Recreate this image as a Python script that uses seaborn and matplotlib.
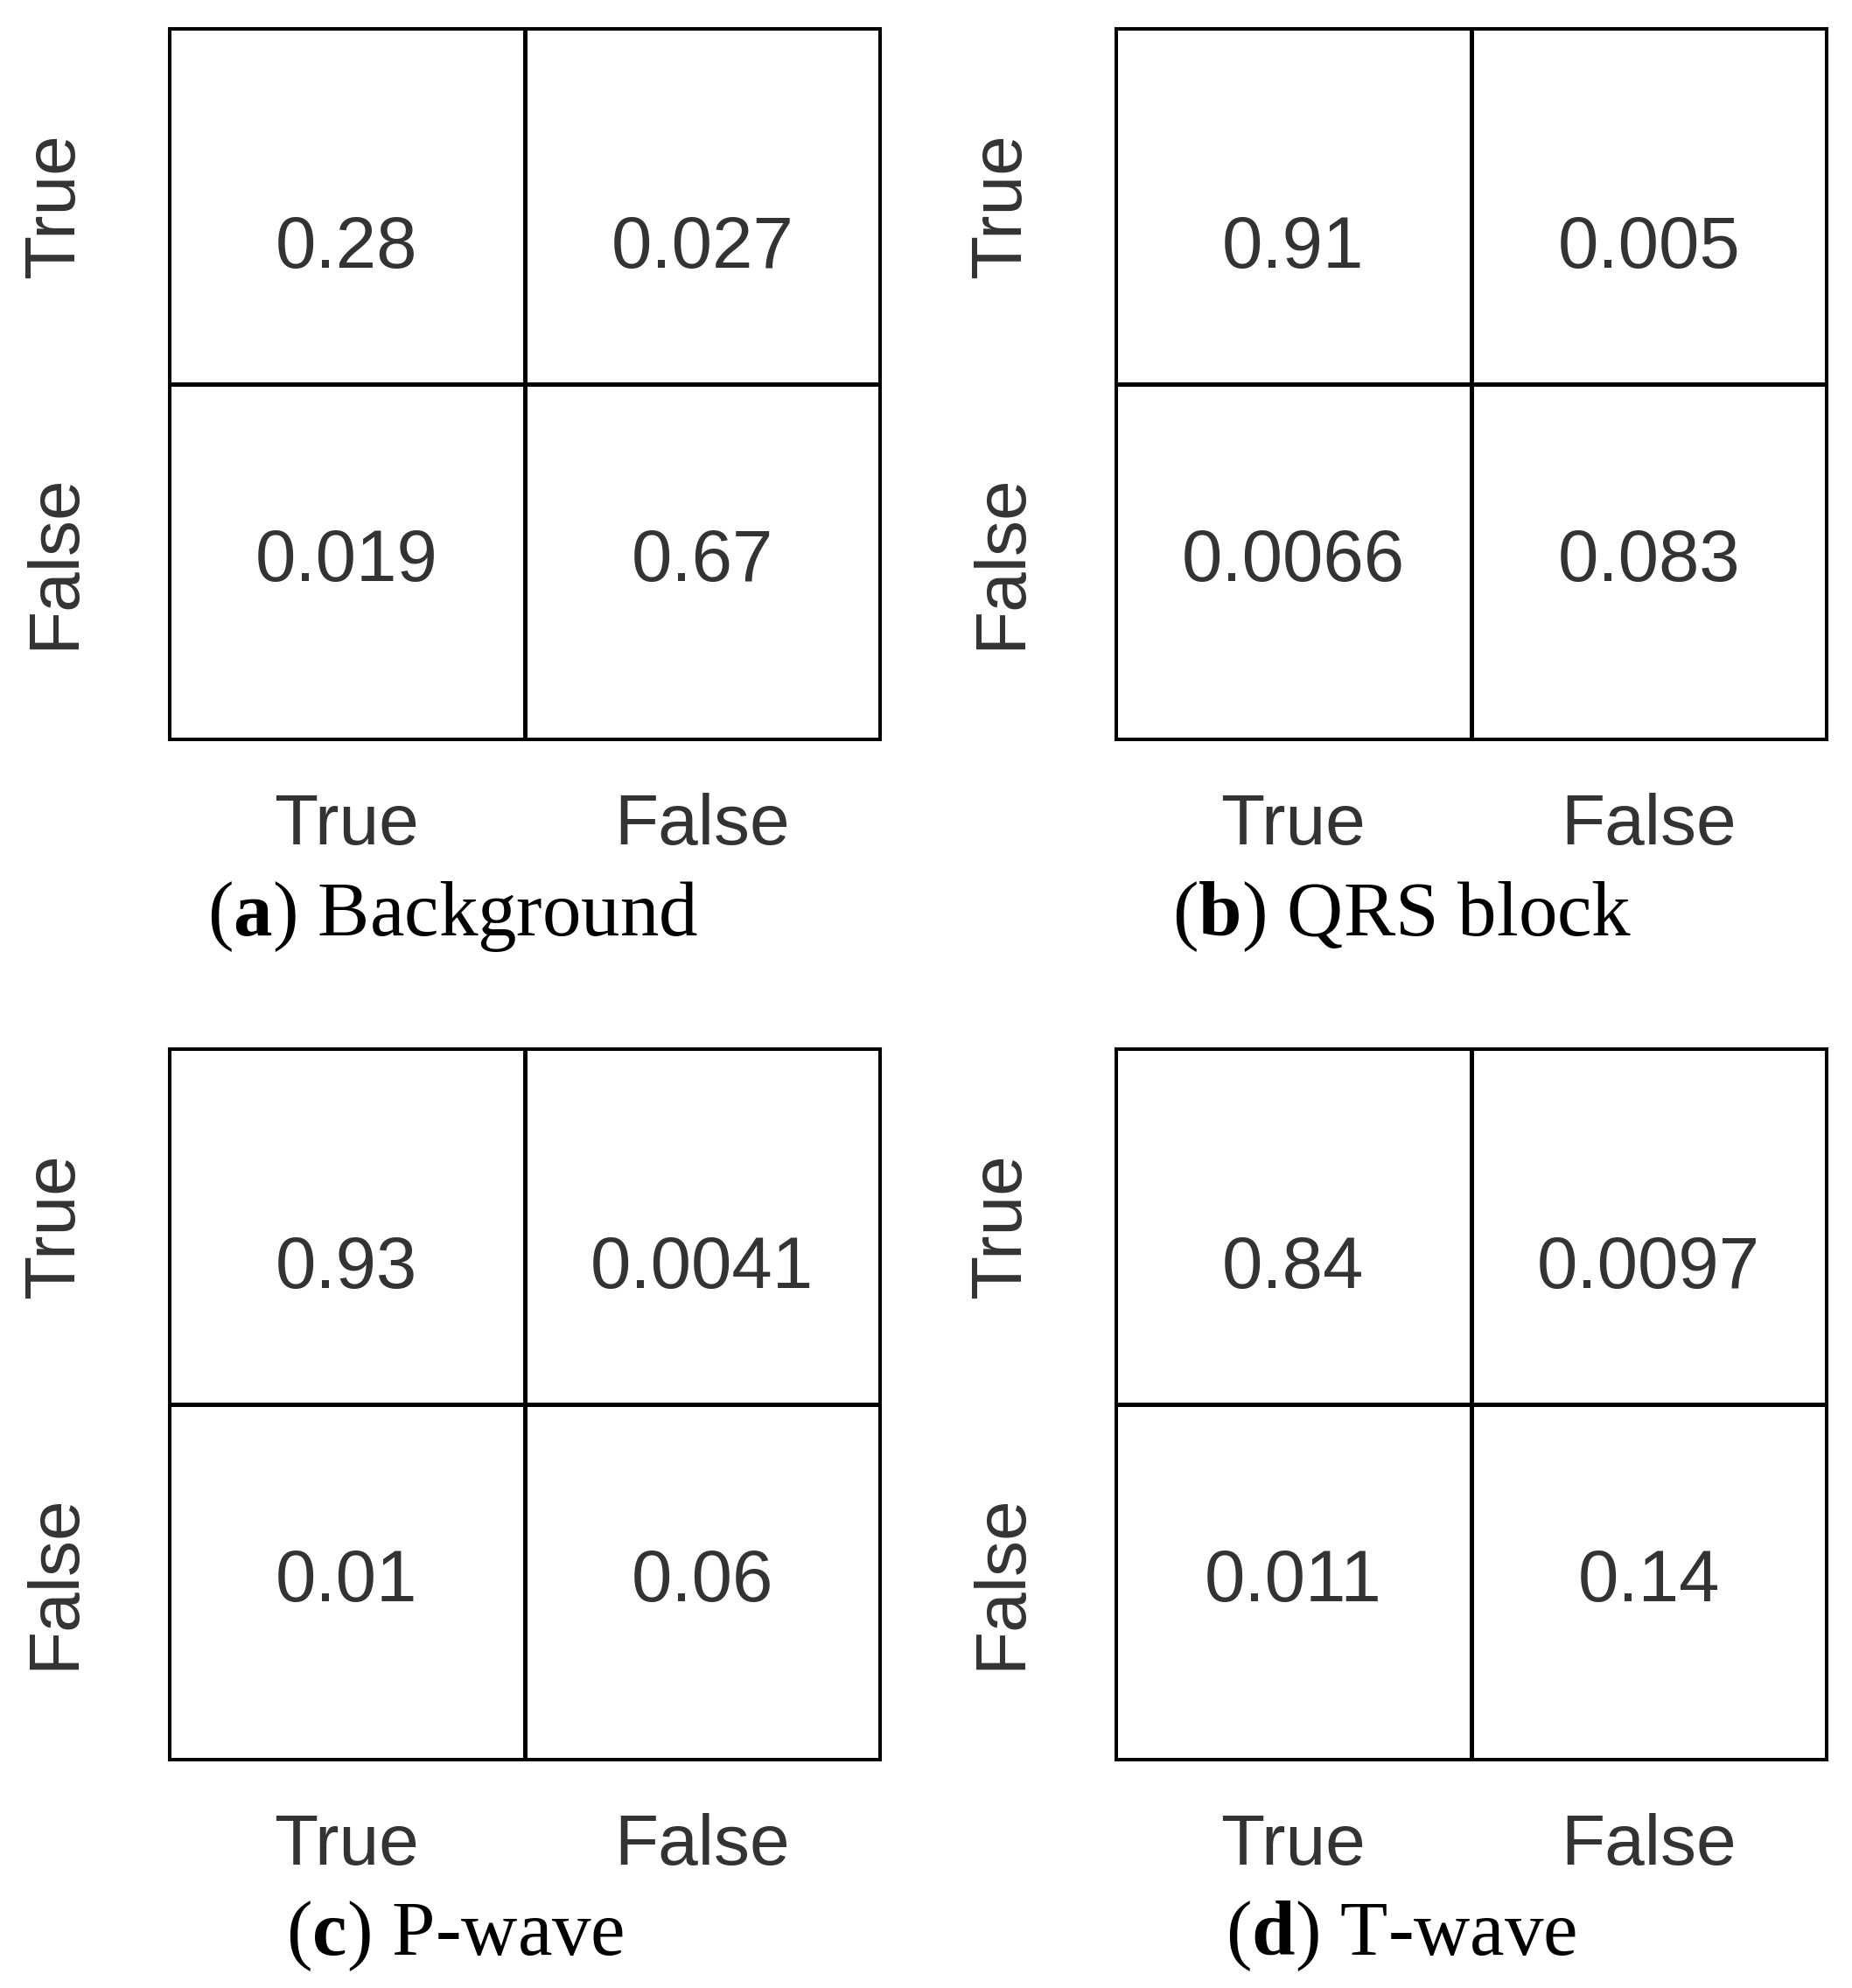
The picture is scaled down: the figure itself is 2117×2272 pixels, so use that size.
import numpy as np
import matplotlib
matplotlib.use("Agg")
import matplotlib.pyplot as plt
import seaborn as sns

# confusion matrix values per segment class (rows/cols: True, False)
class_labels = ["True", "False"]
background = [[0.28, 0.027], [0.019, 0.67]]
qrs_block = [[0.91, 0.005], [0.0066, 0.083]]
p_wave = [[0.93, 0.0041], [0.01, 0.06]]
t_wave = [[0.84, 0.0097], [0.011, 0.14]]
panel_letters = ["a", "b", "c", "d"]
panel_names = ["Background", "QRS block", "P-wave", "T-wave"]

sns.set_style("white")
plt.rcParams["font.family"] = ["Liberation Sans", "DejaVu Sans"]
plt.rcParams["mathtext.fontset"] = "custom"
plt.rcParams["mathtext.rm"] = "Liberation Serif"
plt.rcParams["mathtext.bf"] = "Liberation Serif:bold"

W, H = 2117, 2272
fig = plt.figure(figsize=(W / 100, H / 100), dpi=100)

# axes boxes in pixels (left, top, right, bottom)
boxes = [(193, 32, 1006, 845), (1275, 32, 2088, 845),
         (193, 1198, 1006, 2011), (1275, 1198, 2088, 2011)]
caption_pos = [(518, 1048), (1603, 1048), (520, 2213), (1602, 2213)]
mats = [background, qrs_block, p_wave, t_wave]

txt_col = "#333333"
for i, mat in enumerate(mats):
    l, t, r, b = boxes[i]
    ax = fig.add_axes([l / W, 1 - b / H, (r - l) / W, (b - t) / H])
    sns.heatmap(np.array(mat), ax=ax, annot=True, fmt=".2g", cbar=False,
                cmap=sns.color_palette(["white"], as_cmap=True),
                linewidths=2.2, linecolor="black",
                xticklabels=class_labels, yticklabels=class_labels,
                annot_kws={"size": 60, "color": txt_col})
    # top row numbers sit a bit low in their cells in the original
    for txt in ax.texts:
        x, y = txt.get_position()
        if y < 1:
            txt.set_position((x, y + 0.12))
    for s in ax.spines.values():
        s.set_visible(True)
        s.set_color("black")
        s.set_linewidth(2.2)
    ax.tick_params(axis="x", length=0, pad=44, labelsize=59, labelcolor=txt_col)
    ax.tick_params(axis="y", length=0, pad=66, labelsize=59, labelcolor=txt_col)
    plt.setp(ax.get_yticklabels(), rotation=90, va="center")
    plt.setp(ax.get_xticklabels(), rotation=0)
    cx, cy = caption_pos[i]
    fig.text(cx / W, 1 - cy / H,
             r"($\mathbf{%s}$) %s" % (panel_letters[i], panel_names[i]),
             family="Liberation Serif", fontsize=64, color="black",
             ha="center", va="center")

fig.savefig("out.png", dpi=100, facecolor="white")
